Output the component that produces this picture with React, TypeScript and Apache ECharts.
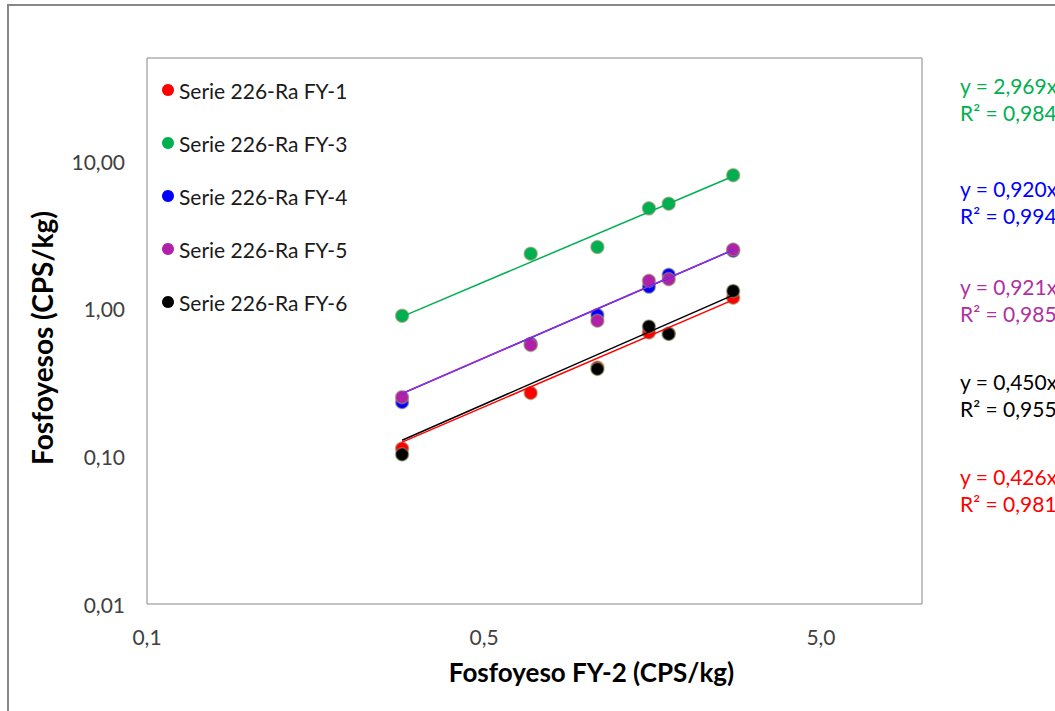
import React, { useEffect, useRef } from "react";
import * as echarts from "echarts";

// FY-2 values (x) shared by every series
const fy2 = [0.286, 0.689, 1.087, 1.546, 1.77, 2.75];

const seriesNames = [
  "Serie 226-Ra FY-1",
  "Serie 226-Ra FY-3",
  "Serie 226-Ra FY-4",
  "Serie 226-Ra FY-5",
  "Serie 226-Ra FY-6",
];
const fy1 = [0.113, 0.269, 0.4, 0.692, 0.68, 1.19];
const fy3 = [0.897, 2.36, 2.62, 4.79, 5.15, 8.04];
const fy4 = [0.233, 0.58, 0.906, 1.41, 1.7, 2.47];
const fy5 = [0.252, 0.569, 0.83, 1.546, 1.587, 2.52];
const fy6 = [0.1031, null, 0.391, 0.759, 0.675, 1.32];
const seriesValues = [fy1, fy3, fy4, fy5, fy6];

const pointColors = ["#FF0000", "#00B050", "#0000FF", "#B020A8", "#000000"];
const lineColors = ["#FF0000", "#00B050", "#0000FF", "#9B30D0", "#000000"];

const trendA = [0.426, 2.969, 0.92, 0.921, 0.45];
const trendB = [0.98, 0.967, 0.99, 0.99, 1.0];

// equation labels as printed on the right
const eqCoef = ["0,426", "2,969", "0,920", "0,921", "0,450"];
const eqR2 = ["0,981", "0,984", "0,994", "0,985", "0,955"];
const eqOrder = [1, 2, 3, 4, 0]; // top to bottom
const eqColors = ["#FF0000", "#00B050", "#0000FF", "#B030A0", "#000000"];

const xTickLabels = ["0,1", "0,5", "5,0"];
const yTickDecimals = 2;

export default function App() {
  const ref = useRef<HTMLDivElement>(null);
  useEffect(() => {
    if (!ref.current) return;
    const chart = echarts.init(ref.current, undefined, { renderer: "svg" });
    const font = "Lato, 'Noto Sans', sans-serif";
    const xmin = Math.min(...fy2);
    const xmax = Math.max(...fy2);

    const scatter = seriesNames.map((name, i) => ({
      name,
      type: "scatter",
      xAxisIndex: 0,
      yAxisIndex: 0,
      symbol: "circle",
      symbolSize: 13,
      itemStyle: {
        color: pointColors[i],
        borderColor: "rgba(150,150,110,0.55)",
        borderWidth: 1.5,
        opacity: 1,
      },
      data: fy2
        .map((x, k) => [x, seriesValues[i][k]])
        .filter((p) => p[1] != null),
      z: 3,
    }));

    const trend = trendA.map((a, i) => ({
      name: "trend" + i,
      type: "line",
      xAxisIndex: 0,
      yAxisIndex: 0,
      symbol: "none",
      lineStyle: { color: lineColors[i], width: 1.5 },
      data: [
        [xmin, a * Math.pow(xmin, trendB[i])],
        [xmax, a * Math.pow(xmax, trendB[i])],
      ],
      z: 4,
      silent: true,
    }));

    const eqY = [85, 188, 286, 381, 476];
    const graphics: any[] = [
      {
        type: "rect",
        shape: { x: 8, y: 5, width: 1300, height: 900 },
        style: { fill: "none", stroke: "#878787", lineWidth: 2 },
        silent: true,
        z: 0,
      },
    ];
    eqOrder.forEach((si, row) => {
      const exp = trendB[si].toFixed(2).replace(".", ",");
      graphics.push({
        type: "text",
        x: 960,
        y: eqY[row],
        style: {
          text: "{m|y = " + eqCoef[si] + "x}{s|" + exp + "}",
          rich: {
            m: { fontFamily: font, fontSize: 21, fill: eqColors[si] },
            s: { fontFamily: font, fontSize: 13, fill: eqColors[si], verticalAlign: "top", padding: [0, 0, 10, 0] },
          },
          verticalAlign: "middle",
        },
        z: 10,
      });
      graphics.push({
        type: "text",
        x: 960,
        y: eqY[row] + 27,
        style: {
          text: "R² = " + eqR2[si],
          fontFamily: font,
          fontSize: 21,
          fill: eqColors[si],
          verticalAlign: "middle",
        },
        z: 10,
      });
    });

    chart.setOption({
      animation: false,
      backgroundColor: "#ffffff",
      grid: {
        left: 147,
        top: 58,
        width: 775,
        height: 546,
        show: true,
        borderColor: "#868686",
        borderWidth: 1,
        backgroundColor: "transparent",
        containLabel: false,
      },
      legend: {
        data: seriesNames,
        orient: "vertical",
        left: 157,
        top: 74,
        itemGap: 31,
        itemWidth: 12,
        itemHeight: 12,
        icon: "circle",
        itemStyle: { borderWidth: 0 },
        textStyle: { fontFamily: font, fontSize: 21, color: "#1a1a1a", lineHeight: 22, padding: [0, 0, 0, 0] },
        selectedMode: false,
      },
      xAxis: [
        {
          type: "log",
          logBase: 10,
          min: 0.05,
          max: 10,
          axisLine: { show: false },
          axisTick: { show: false },
          axisLabel: { show: false },
          splitLine: { show: false },
          minorSplitLine: { show: false },
        },
        {
          type: "value",
          min: Math.log10(0.05),
          max: 1,
          interval: 1,
          position: "bottom",
          axisLine: { show: false },
          axisTick: { show: false },
          splitLine: { show: false },
          axisLabel: {
            margin: 22,
            fontFamily: font,
            fontSize: 21,
            color: "#404040",
            formatter: (v: number, idx: number) => (idx < xTickLabels.length ? xTickLabels[idx] : ""),
          },
          name: "Fosfoyeso FY-2 (CPS/kg)",
          nameLocation: "middle",
          nameGap: 55,
          nameTextStyle: {
            fontFamily: font,
            fontSize: 26,
            fontWeight: "bold",
            color: "#000",
            padding: [0, 0, 0, 114],
          },
        },
      ],
      yAxis: {
        type: "log",
        logBase: 10,
        min: 0.01,
        max: 50,
        axisLine: { show: false },
        axisTick: { show: false },
        splitLine: { show: false },
        minorSplitLine: { show: false },
        axisLabel: {
          margin: 22,
          fontFamily: font,
          fontSize: 21,
          color: "#404040",
          showMaxLabel: false,
          formatter: (v: number) => (v > 20 ? "" : v.toFixed(yTickDecimals).replace(".", ",")),
        },
        name: "Fosfoyesos (CPS/kg)",
        nameLocation: "middle",
        nameGap: 91,
        nameRotate: 90,
        nameTextStyle: {
          fontFamily: font,
          fontSize: 28,
          fontWeight: "bold",
          color: "#000",
          padding: [0, 14, 0, 0],
        },
      },
      series: [...scatter, ...trend],
      graphic: graphics,
    });
    return () => chart.dispose();
  }, []);
  return (
    <div
      ref={ref}
      style={{ position: "absolute", left: 0, top: 0, width: 1055, height: 711, background: "#fff" }}
    />
  );
}
